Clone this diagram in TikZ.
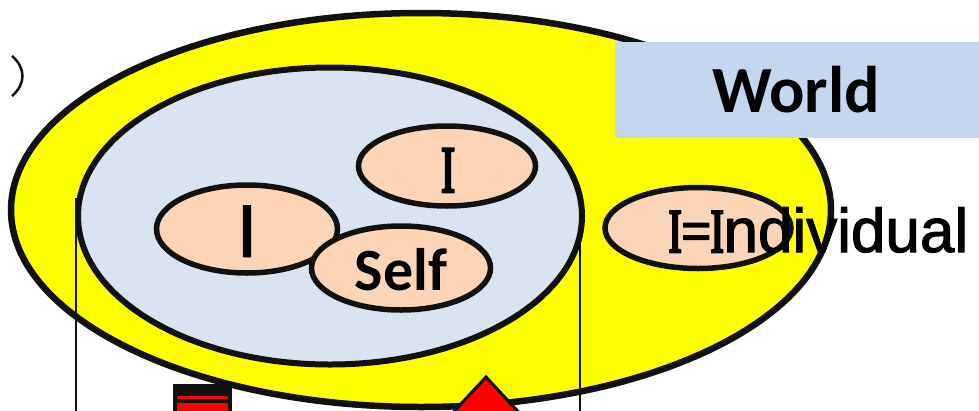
\documentclass[tikz,border=0pt]{standalone}
\usepackage{fontspec}
\usetikzlibrary{shapes.geometric}
\newfontfamily\calb[BoldFont={Carlito Bold}]{Carlito}
\newfontfamily\calbar[FakeBold=1.2]{Carlito}
\newfontfamily\serI[FakeStretch=0.6, FakeBold=4]{Liberation Serif}
\newfontfamily\serEq[FakeStretch=0.85, FakeBold=3]{Liberation Serif}
\newfontfamily\sansr[FakeBold=1.8]{Liberation Sans}
\definecolor{yel}{HTML}{FFFF00}
\definecolor{innerblue}{HTML}{DAE3F0}
\definecolor{peach}{HTML}{FBD5B5}
\definecolor{worldblue}{HTML}{C5D7EE}
\definecolor{ink}{HTML}{111111}
\tikzset{
  bigell/.style={ellipse, draw=ink, inner sep=0pt, outer sep=0pt},
  smallell/.style={ellipse, draw=ink, fill=peach, line width=5.5pt, inner sep=0pt, outer sep=0pt},
  lbl/.style={inner sep=0pt, outer sep=0pt, text=black},
  thinline/.style={draw=ink, line width=2pt}
}
\begin{document}
\begin{tikzpicture}[x=1pt,y=-1pt]
\useasboundingbox (0,0) rectangle (979,410);
\clip (0,0) rectangle (979,410);
% outer world ellipse
\node[bigell, fill=yel, line width=6.5pt, minimum width=820pt, minimum height=394pt] (outer) at (421,210) {};
% inner ellipse
\node[bigell, fill=innerblue, line width=6pt, minimum width=504pt, minimum height=297pt] (inner) at (330,216) {};
% small ellipses
\node[smallell, minimum width=181pt, minimum height=88pt] (eleft) at (247,229) {};
\node[smallell, minimum width=177pt, minimum height=80pt] (etop) at (447,166) {};
\node[smallell, minimum width=179pt, minimum height=84pt] (eself) at (401,268) {};
\node[smallell, minimum width=186pt, minimum height=81pt] (eind) at (698,228) {};
% World box
\node[fill=worldblue, inner sep=0pt, outer sep=0pt, minimum width=380pt, minimum height=96pt, anchor=north west] (worldbox) at (615,42) {};
\node[lbl, anchor=base] (world) at (796,112) {\fontsize{66}{66}\selectfont\calb\bfseries World};
% vertical lines
\coordinate (lt) at (76,198);
\coordinate (lb) at (76,412);
\coordinate (rt) at (580,232);
\coordinate (rb) at (580,412);
\draw[thinline] (lt) -- (lb);
\draw[thinline] (rt) -- (rb);
% texts in ellipses
\node[lbl, anchor=base] (tleft) at (247,257) {\fontsize{80}{80}\selectfont\calbar I};
\node[lbl, anchor=base] (ttop) at (448,192) {\fontsize{66}{66}\selectfont\serI I};
\node[lbl, anchor=base] (tself) at (401,290) {\fontsize{60}{60}\selectfont\calb\bfseries Self};
\node[lbl, anchor=base west] (tind) at (669,252) {\fontsize{62}{62}\selectfont{\serI I}{\serEq =}{\serI I}{\sansr ndividual}};
% top-left bracket arc
\coordinate (pa) at (12,56);
\coordinate (pb) at (12,96);
\draw[draw=ink, line width=2.5pt] (pa) .. controls (26,68) and (26,84) .. (pb);
% bottom shapes
\node[fill=ink, inner sep=0pt, outer sep=0pt, minimum width=59pt, minimum height=30pt, anchor=north west] (blk) at (173,384) {};
\node[fill=red, inner sep=0pt, outer sep=0pt, minimum width=51pt, minimum height=3pt, anchor=north west] (rs1) at (177,395.5) {};
\node[fill=red, inner sep=0pt, outer sep=0pt, minimum width=51pt, minimum height=10pt, anchor=north west] (rs2) at (177,403) {};
\coordinate (ta) at (486,377);
\coordinate (tl) at (446,420);
\coordinate (tr) at (526,420);
\draw[draw=ink, fill=red, line width=3pt, line join=miter] (ta) -- (tr) -- (tl) -- cycle;
\end{tikzpicture}
\end{document}
